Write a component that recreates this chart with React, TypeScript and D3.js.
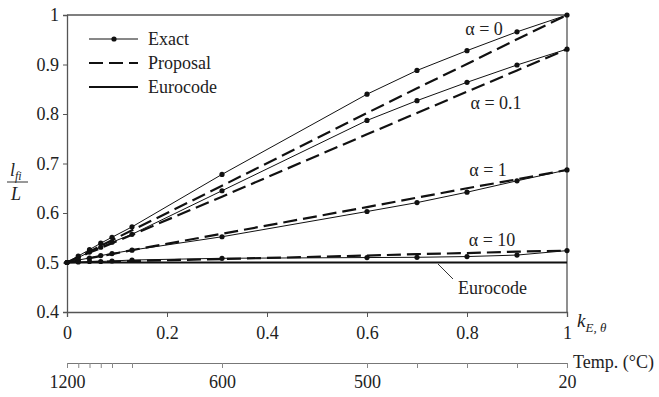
import React, { useRef, useEffect } from 'react';
import * as d3 from 'd3';

// reduction factor k_E,theta at each temperature step
const kValues = [0, 0.0225, 0.045, 0.0675, 0.09, 0.13, 0.31, 0.6, 0.7, 0.8, 0.9, 1];
const tempTickLabels = ['1200', '', '', '', '', '', '600', '500', '', '', '', '20'];

const alphaLabels = ['α = 0', 'α = 0.1', 'α = 1', 'α = 10'];

const exactA0 = [0.5, 0.513, 0.526, 0.539, 0.551, 0.572, 0.678, 0.84, 0.888, 0.928, 0.966, 1.0];
const exactA01 = [0.5, 0.51, 0.521, 0.531, 0.541, 0.557, 0.645, 0.787, 0.827, 0.864, 0.899, 0.931];
const exactA1 = [0.5, 0.505, 0.509, 0.514, 0.518, 0.525, 0.552, 0.603, 0.621, 0.642, 0.665, 0.687];
const exactA10 = [0.5, 0.501, 0.502, 0.502, 0.503, 0.505, 0.5085, 0.51, 0.5105, 0.512, 0.515, 0.524];

const propA0 = [0.5, 0.511, 0.522, 0.534, 0.545, 0.565, 0.655, 0.802, 0.852, 0.901, 0.951, 1.0];
const propA01 = [0.5, 0.51, 0.52, 0.529, 0.539, 0.556, 0.633, 0.759, 0.802, 0.845, 0.888, 0.931];
const propA1 = [0.5, 0.504, 0.509, 0.513, 0.517, 0.525, 0.558, 0.612, 0.631, 0.65, 0.668, 0.687];
const propA10 = [0.5, 0.501, 0.501, 0.502, 0.502, 0.503, 0.507, 0.514, 0.517, 0.519, 0.522, 0.524];

const eurocode = [0.5, 0.5];
const eurocodeK = [0, 1];

const yTicks = [0.4, 0.5, 0.6, 0.7, 0.8, 0.9, 1];
const xTicks = [0, 0.2, 0.4, 0.6, 0.8, 1];

const FONT = "'Liberation Serif', 'DejaVu Serif', serif";

const App = () => {
    const svgRef = useRef<SVGSVGElement>(null);

    useEffect(() => {
        const svg = d3.select(svgRef.current);
        svg.selectAll('*').remove();

        const x = d3.scaleLinear().domain([0, 1]).range([67, 567]);
        const y = d3.scaleLinear().domain([0.4, 1]).range([312, 15]);

        const exact = [exactA0, exactA01, exactA1, exactA10];
        const proposal = [propA0, propA01, propA1, propA10];

        // frame: top and right border
        svg.append('path')
            .attr('d', `M${x(0)},${y(1)}H${x(1)}V${y(0.4)}`)
            .attr('fill', 'none')
            .attr('stroke', '#555')
            .attr('stroke-width', 1.3);

        // y axis
        const yAxis = svg.append('g')
            .attr('transform', `translate(${x(0)},0)`)
            .call(d3.axisLeft(y).tickValues(yTicks).tickSize(4).tickPadding(4)
                .tickFormat(d => (d === 1 ? '1' : d3.format('.1f')(d as number))));

        // x axis
        const xAxis = svg.append('g')
            .attr('transform', `translate(0,${y(0.4)})`)
            .call(d3.axisBottom(x).tickValues(xTicks).tickSize(5).tickPadding(9)
                .tickFormat(d => (d === 0 || d === 1 ? String(d) : d3.format('.1f')(d as number))));

        // temperature axis
        const tempAxis = svg.append('g')
            .attr('transform', 'translate(0,363)')
            .call(d3.axisBottom(x).tickValues(kValues).tickSize(5).tickPadding(7)
                .tickFormat((d, i) => tempTickLabels[i]));

        [yAxis, xAxis, tempAxis].forEach(a => {
            a.attr('font-family', null).attr('font-size', null);
            a.select('.domain').attr('stroke', '#555').attr('stroke-width', 1.3);
            a.selectAll('line').attr('stroke', '#555');
            a.selectAll('text').style('font-family', FONT).style('font-size', '18px').attr('fill', '#222');
        });
        tempAxis.select('.domain').attr('stroke', '#777').attr('stroke-width', 1);
        tempAxis.selectAll('line').attr('stroke', '#888');

        const line = d3.line<number>()
            .x((d, i) => x(kValues[i]))
            .y(d => y(d));

        // Eurocode
        svg.append('path')
            .datum(eurocode)
            .attr('fill', 'none')
            .attr('stroke', '#111')
            .attr('stroke-width', 1.8)
            .attr('d', d3.line<number>().x((d, i) => x(eurocodeK[i])).y(d => y(d)));

        // Proposal
        proposal.forEach(vals => {
            svg.append('path')
                .datum(vals)
                .attr('fill', 'none')
                .attr('stroke', '#111')
                .attr('stroke-width', 2.2)
                .attr('stroke-dasharray', '14,6')
                .attr('d', line);
        });

        // Exact
        exact.forEach(vals => {
            svg.append('path')
                .datum(vals)
                .attr('fill', 'none')
                .attr('stroke', '#111')
                .attr('stroke-width', 1)
                .attr('d', line);
            svg.selectAll(null)
                .data(vals)
                .join('circle')
                .attr('cx', (d, i) => x(kValues[i]))
                .attr('cy', d => y(d))
                .attr('r', 2.6)
                .attr('fill', '#111');
        });

        const txt = (sel: any, size = 18) =>
            sel.style('font-family', FONT).style('font-size', `${size}px`).attr('fill', '#222');

        // alpha labels
        const labelPos = [[484, 35], [496, 109], [488, 176], [492, 246]];
        alphaLabels.forEach((t, i) => {
            txt(svg.append('text')
                .attr('x', labelPos[i][0])
                .attr('y', labelPos[i][1])
                .attr('text-anchor', 'middle'))
                .text(t);
        });

        // Eurocode callout
        svg.append('line')
            .attr('x1', 438).attr('y1', 264).attr('x2', 453).attr('y2', 279)
            .attr('stroke', '#333').attr('stroke-width', 1);
        txt(svg.append('text').attr('x', 458).attr('y', 294)).text('Eurocode');

        // legend
        const legendItems = [
            { name: 'Exact', dash: null, width: 1, marker: true },
            { name: 'Proposal', dash: '14,6', width: 2.2, marker: false },
            { name: 'Eurocode', dash: null, width: 1.8, marker: false },
        ];
        const legend = svg.selectAll('.legend')
            .data(legendItems)
            .join('g')
            .attr('class', 'legend')
            .attr('transform', (d, i) => `translate(0,${39 + i * 24})`);
        legend.append('line')
            .attr('x1', 89).attr('x2', 138)
            .attr('stroke', '#111')
            .attr('stroke-width', d => d.width)
            .attr('stroke-dasharray', d => d.dash);
        legend.filter(d => d.marker).append('circle')
            .attr('cx', 114).attr('r', 2.6).attr('fill', '#111');
        txt(legend.append('text').attr('x', 148).attr('dy', '0.33em'))
            .text(d => d.name);

        // y label: l_fi / L
        const yl = svg.append('g').style('font-style', 'italic');
        const top = txt(yl.append('text').attr('x', 10).attr('y', 176));
        top.append('tspan').text('l');
        top.append('tspan').style('font-size', '12px').attr('dy', 4).text('fi');
        yl.append('line').attr('x1', 7).attr('x2', 28).attr('y1', 182).attr('y2', 182)
            .attr('stroke', '#333').attr('stroke-width', 1);
        txt(yl.append('text').attr('x', 11).attr('y', 200)).text('L');

        // x label: k_E,theta
        const kl = txt(svg.append('text').attr('x', 577).attr('y', 327), 19)
            .style('font-style', 'italic');
        kl.append('tspan').text('k');
        kl.append('tspan').style('font-size', '13px').attr('dy', 5).text('E, θ');

        txt(svg.append('text').attr('x', 573).attr('y', 368)).text('Temp. (°C)');
    }, []);

    return (
        <svg ref={svgRef} width="659" height="397"
            style={{ position: 'absolute', left: 0, top: 0, background: '#fff' }}></svg>
    );
};

export default App;
